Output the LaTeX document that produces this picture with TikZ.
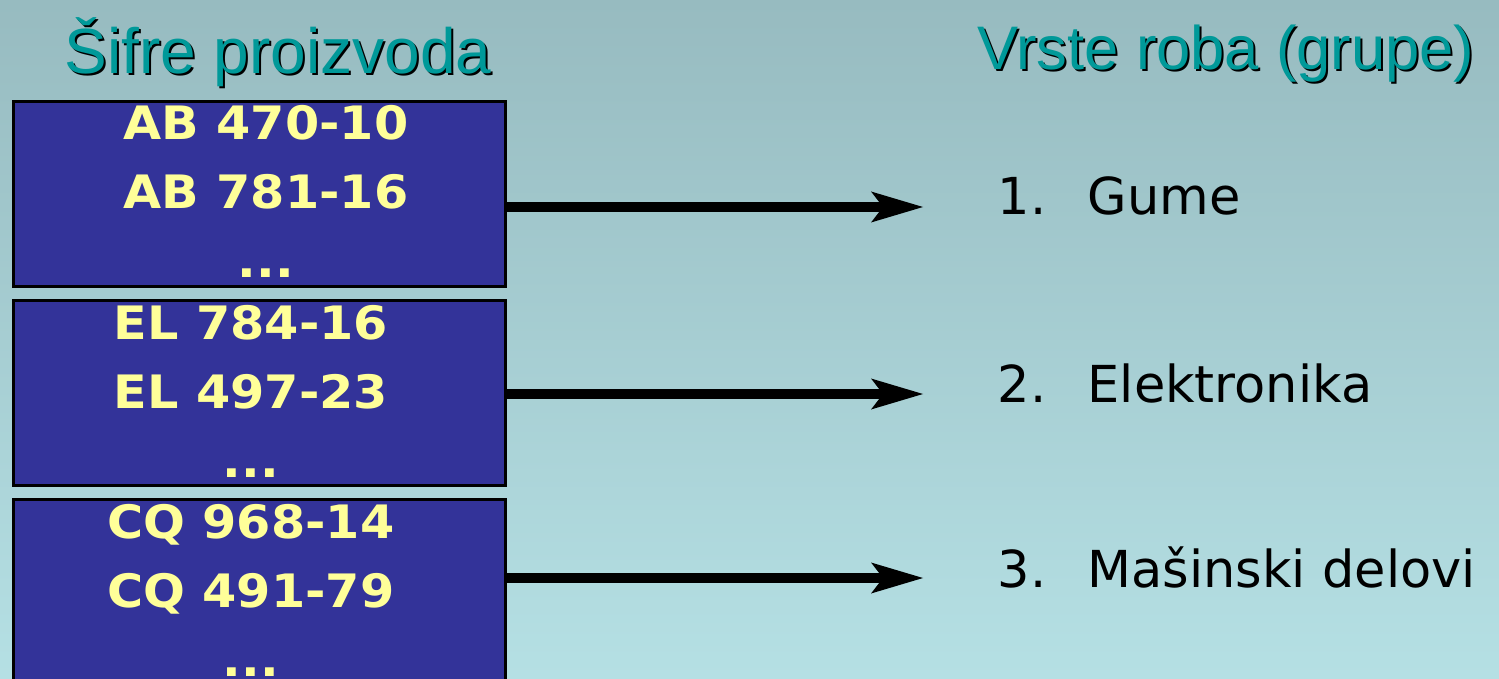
\documentclass[tikz,border=0pt]{standalone}
\usepackage{fontspec}
\usepackage{tikz}
\usetikzlibrary{arrows.meta}
\usepackage{xcolor}

\newfontfamily\headfont{Liberation Sans}
\newfontfamily\codefont{DejaVu Sans}[FakeStretch=1.07]
\newfontfamily\itemfont{DejaVu Sans}

\definecolor{bgtop}{HTML}{97BBC0}
\definecolor{bgbot}{HTML}{B5E0E4}
\definecolor{boxblue}{HTML}{333399}
\definecolor{codeyellow}{HTML}{FFFF99}
\definecolor{headteal}{HTML}{009999}

\begin{document}
\begin{tikzpicture}[
    codebox/.style={draw=black, line width=0.03cm, fill=boxblue, minimum width=4.92cm, minimum height=1.85cm, inner sep=0pt},
    codes/.style={text=codeyellow, align=center, inner sep=0pt, anchor=north, font=\codefont\bfseries\fontsize{13.1}{19.6}\selectfont},
    head/.style={inner sep=0pt, anchor=base west},
    grp/.style={inner sep=0pt, anchor=base west, font=\itemfont\fontsize{14.5}{17}\selectfont},
    link/.style={line width=1mm, -{Stealth[length=5.2mm, width=3.1mm, inset=1.2mm, line width=0pt]}}
  ]
  \useasboundingbox (0,0) rectangle (14.99,-6.79);
  \clip (0,0) rectangle (14.99,-6.79);
  \shade[top color=bgtop, bottom color=bgbot] (0,0) rectangle (14.99,-6.79);

  % column headings, with a dark drop shadow
  \node[head, text=black] (hdrcodesh) at (0.66,-0.76) {\headfont\fontsize{18.2}{20}\selectfont Šifre proizvoda};
  \node[head, text=headteal] (hdrcode) at (0.64,-0.74) {\headfont\fontsize{18.2}{20}\selectfont Šifre proizvoda};
  \node[head, text=black] (hdrgrpsh) at (9.79,-0.72) {\headfont\fontsize{17.5}{20}\selectfont Vrste roba (grupe)};
  \node[head, text=headteal] (hdrgrp) at (9.77,-0.70) {\headfont\fontsize{17.5}{20}\selectfont Vrste roba (grupe)};

  % product code boxes
  \node[codebox] (box1) at (2.595,-1.94) {};
  \node[codebox] (box2) at (2.595,-3.93) {};
  \node[codebox] (box3) at (2.595,-5.92) {};

  \node[codes] (codes1) at (2.66,-1.05) {AB 470-10\\AB 781-16\\...};
  \node[codes] (codes2) at (2.51,-3.05) {EL 784-16\\EL 497-23\\...};
  \node[codes] (codes3) at (2.51,-5.04) {CQ 968-14\\CQ 491-79\\...};

  % groups
  \node[grp] (grp1) at (9.97,-2.15) {\makebox[0.90cm][l]{1.}Gume};
  \node[grp] (grp2) at (9.97,-4.02) {\makebox[0.90cm][l]{2.}Elektronika};
  \node[grp] (grp3) at (9.97,-5.87) {\makebox[0.90cm][l]{3.}Mašinski delovi};

  \coordinate (tip1) at (9.23,-2.07);
  \coordinate (tip2) at (9.23,-3.94);
  \coordinate (tip3) at (9.23,-5.78);

  \draw[link] (box1.east |- tip1) -- (tip1);
  \draw[link] (box2.east |- tip2) -- (tip2);
  \draw[link] (box3.east |- tip3) -- (tip3);
\end{tikzpicture}
\end{document}
